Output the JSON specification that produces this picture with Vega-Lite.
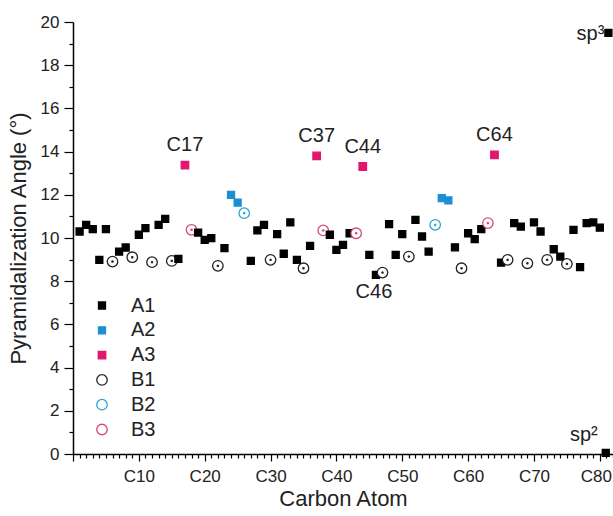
{
  "$schema": "https://vega.github.io/schema/vega-lite/v6.json",
  "width": 540,
  "height": 432,
  "autosize": {"type": "none"},
  "padding": {"left": 73, "top": 22, "right": 0, "bottom": 62},
  "config": {
    "view": {"stroke": null},
    "font": "Liberation Sans",
    "axis": {"grid": false, "domainColor": "#000", "domainWidth": 1.5, "tickColor": "#000", "tickWidth": 1.2, "labelColor": "#222", "titleColor": "#222", "labelFont": "Liberation Sans", "titleFont": "Liberation Sans", "titleFontWeight": "normal", "labelOverlap": false, "labelFlush": false}
  },
  "data": {
    "values": [
      {"atom": 1, "angle": 10.30, "series": "A1"},
      {"atom": 2, "angle": 10.61, "series": "A1"},
      {"atom": 3, "angle": 10.41, "series": "A1"},
      {"atom": 4, "angle": 8.99, "series": "A1"},
      {"atom": 5, "angle": 10.41, "series": "A1"},
      {"atom": 6, "angle": 8.91, "series": "B1"},
      {"atom": 7, "angle": 9.37, "series": "A1"},
      {"atom": 8, "angle": 9.56, "series": "A1"},
      {"atom": 9, "angle": 9.11, "series": "B1"},
      {"atom": 10, "angle": 10.15, "series": "A1"},
      {"atom": 11, "angle": 10.46, "series": "A1"},
      {"atom": 12, "angle": 8.88, "series": "B1"},
      {"atom": 13, "angle": 10.61, "series": "A1"},
      {"atom": 14, "angle": 10.89, "series": "A1"},
      {"atom": 15, "angle": 8.94, "series": "B1"},
      {"atom": 16, "angle": 9.03, "series": "A1"},
      {"atom": 17, "angle": 13.37, "series": "A3", "label": "C17"},
      {"atom": 18, "angle": 10.38, "series": "B3"},
      {"atom": 19, "angle": 10.25, "series": "A1"},
      {"atom": 20, "angle": 9.91, "series": "A1"},
      {"atom": 21, "angle": 9.99, "series": "A1"},
      {"atom": 22, "angle": 8.71, "series": "B1"},
      {"atom": 23, "angle": 9.53, "series": "A1"},
      {"atom": 24, "angle": 12.0, "series": "A2"},
      {"atom": 25, "angle": 11.64, "series": "A2"},
      {"atom": 26, "angle": 11.15, "series": "B2"},
      {"atom": 27, "angle": 8.94, "series": "A1"},
      {"atom": 28, "angle": 10.35, "series": "A1"},
      {"atom": 29, "angle": 10.61, "series": "A1"},
      {"atom": 30, "angle": 8.99, "series": "B1"},
      {"atom": 31, "angle": 10.18, "series": "A1"},
      {"atom": 32, "angle": 9.27, "series": "A1"},
      {"atom": 33, "angle": 10.72, "series": "A1"},
      {"atom": 34, "angle": 8.99, "series": "A1"},
      {"atom": 35, "angle": 8.6, "series": "B1"},
      {"atom": 36, "angle": 9.64, "series": "A1"},
      {"atom": 37, "angle": 13.8, "series": "A3", "label": "C37"},
      {"atom": 38, "angle": 10.35, "series": "B3"},
      {"atom": 39, "angle": 10.15, "series": "A1"},
      {"atom": 40, "angle": 9.45, "series": "A1"},
      {"atom": 41, "angle": 9.68, "series": "A1"},
      {"atom": 42, "angle": 10.22, "series": "A1"},
      {"atom": 43, "angle": 10.22, "series": "B3"},
      {"atom": 44, "angle": 13.31, "series": "A3", "label": "C44"},
      {"atom": 45, "angle": 9.22, "series": "A1"},
      {"atom": 46, "angle": 8.29, "series": "A1", "label": "C46"},
      {"atom": 47, "angle": 8.4, "series": "B1"},
      {"atom": 48, "angle": 10.64, "series": "A1"},
      {"atom": 49, "angle": 9.22, "series": "A1"},
      {"atom": 50, "angle": 10.18, "series": "A1"},
      {"atom": 51, "angle": 9.14, "series": "B1"},
      {"atom": 52, "angle": 10.84, "series": "A1"},
      {"atom": 53, "angle": 10.07, "series": "A1"},
      {"atom": 54, "angle": 9.37, "series": "A1"},
      {"atom": 55, "angle": 10.61, "series": "B2"},
      {"atom": 56, "angle": 11.85, "series": "A2"},
      {"atom": 57, "angle": 11.74, "series": "A2"},
      {"atom": 58, "angle": 9.57, "series": "A1"},
      {"atom": 59, "angle": 8.6, "series": "B1"},
      {"atom": 60, "angle": 10.22, "series": "A1"},
      {"atom": 61, "angle": 9.95, "series": "A1"},
      {"atom": 62, "angle": 10.41, "series": "A1"},
      {"atom": 63, "angle": 10.69, "series": "B3"},
      {"atom": 64, "angle": 13.85, "series": "A3", "label": "C64"},
      {"atom": 65, "angle": 8.86, "series": "A1"},
      {"atom": 66, "angle": 8.99, "series": "B1"},
      {"atom": 67, "angle": 10.69, "series": "A1"},
      {"atom": 68, "angle": 10.53, "series": "A1"},
      {"atom": 69, "angle": 8.83, "series": "B1"},
      {"atom": 70, "angle": 10.72, "series": "A1"},
      {"atom": 71, "angle": 10.3, "series": "A1"},
      {"atom": 72, "angle": 8.99, "series": "B1"},
      {"atom": 73, "angle": 9.48, "series": "A1"},
      {"atom": 74, "angle": 9.14, "series": "A1"},
      {"atom": 75, "angle": 8.8, "series": "B1"},
      {"atom": 76, "angle": 10.38, "series": "A1"},
      {"atom": 77, "angle": 8.65, "series": "A1"},
      {"atom": 78, "angle": 10.69, "series": "A1"},
      {"atom": 79, "angle": 10.72, "series": "A1"},
      {"atom": 80, "angle": 10.48, "series": "A1"},
      {"atom": 80.9, "angle": 0.05, "series": "A1", "label": "sp²"},
      {"atom": 81.3, "angle": 19.5, "series": "A1", "label": "sp³"}
    ]
  },
  "encoding": {
    "x": {
      "field": "atom", "type": "quantitative",
      "scale": {"domain": [0, 82], "nice": false, "zero": false},
      "axis": {
        "title": "Carbon Atom", "titleFontSize": 22, "titlePadding": 4,
        "values": [0,1,2,3,4,5,6,7,8,9,10,11,12,13,14,15,16,17,18,19,20,21,22,23,24,25,26,27,28,29,30,31,32,33,34,35,36,37,38,39,40,41,42,43,44,45,46,47,48,49,50,51,52,53,54,55,56,57,58,59,60,61,62,63,64,65,66,67,68,69,70,71,72,73,74,75,76,77,78,79,80,81,82],
        "tickSize": {"condition": {"test": "datum.value % 10 === 0", "value": 7}, "value": 4},
        "labelExpr": "datum.value % 10 === 0 && datum.value > 0 ? 'C' + datum.value : ''",
        "labelOffset": {"condition": {"test": "datum.value === 80", "value": -4}, "value": 0},
        "labelFontSize": 17, "labelPadding": 7
      }
    },
    "y": {
      "field": "angle", "type": "quantitative",
      "scale": {"domain": [0, 20], "nice": false},
      "axis": {
        "title": "Pyramidalization Angle (°)", "titleFontSize": 22, "titlePadding": 10,
        "values": [0,1,2,3,4,5,6,7,8,9,10,11,12,13,14,15,16,17,18,19,20],
        "tickSize": {"condition": {"test": "datum.value % 2 === 0", "value": 9}, "value": 4},
        "labelExpr": "datum.value % 2 === 0 ? datum.label : ''",
        "labelFontSize": 17, "labelPadding": 5
      }
    }
  },
  "layer": [
    {
      "mark": {"type": "point", "strokeWidth": 1.3, "opacity": 1},
      "encoding": {
        "fill": {"field": "series", "type": "nominal", "title": null,
          "scale": {"domain": ["A1","A2","A3","B1","B2","B3"], "range": ["#000000","#1c8ed4","#e0176e","#ffffff","#ffffff","#ffffff"]},
          "legend": {"orient": "none", "legendX": 19, "legendY": 273.5, "title": null, "labelFontSize": 20, "labelFont": "Liberation Sans", "labelColor": "#222", "rowPadding": 4.8, "labelOffset": 19, "padding": 0, "symbolStrokeWidth": 1.3}},
        "stroke": {"field": "series", "type": "nominal", "title": null,
          "scale": {"domain": ["A1","A2","A3","B1","B2","B3"], "range": ["#000000","#1c8ed4","#e0176e","#222222","#2ba3cf","#d14b7a"]},
          "legend": {"orient": "none", "legendX": 19, "legendY": 273.5, "title": null, "labelFontSize": 20, "labelFont": "Liberation Sans", "labelColor": "#222", "rowPadding": 4.8, "labelOffset": 19, "padding": 0, "symbolStrokeWidth": 1.3}},
        "shape": {"field": "series", "type": "nominal", "title": null,
          "scale": {"domain": ["A1","A2","A3","B1","B2","B3"], "range": ["square","square","square","circle","circle","circle"]},
          "legend": {"orient": "none", "legendX": 19, "legendY": 273.5, "title": null, "labelFontSize": 20, "labelFont": "Liberation Sans", "labelColor": "#222", "rowPadding": 4.8, "labelOffset": 19, "padding": 0, "symbolStrokeWidth": 1.3}},
        "size": {"field": "series", "type": "nominal", "title": null,
          "scale": {"type": "ordinal", "domain": ["A1","A2","A3","B1","B2","B3"], "range": [49, 49, 56, 110, 110, 110]},
          "legend": {"orient": "none", "legendX": 19, "legendY": 273.5, "title": null, "labelFontSize": 20, "labelFont": "Liberation Sans", "labelColor": "#222", "rowPadding": 4.8, "labelOffset": 19, "padding": 0, "symbolStrokeWidth": 1.3}}
      }
    },
    {
      "transform": [{"filter": "test(/^B/, datum.series)"}],
      "mark": {"type": "point", "shape": "circle", "filled": false, "size": 2, "strokeWidth": 1.2, "opacity": 1},
      "encoding": {
        "stroke": {"field": "series", "type": "nominal", "legend": null}
      }
    },
    {
      "transform": [{"filter": "datum.series === 'A3'"}],
      "mark": {"type": "text", "fontSize": 20, "font": "Liberation Sans", "color": "#222", "baseline": "middle", "align": "center", "dy": -20},
      "encoding": {"text": {"field": "label"}}
    },
    {
      "transform": [{"filter": "datum.label === 'C46'"}],
      "mark": {"type": "text", "fontSize": 20, "font": "Liberation Sans", "color": "#222", "baseline": "middle", "align": "center", "dx": -2, "dy": 17},
      "encoding": {"text": {"field": "label"}}
    },
    {
      "transform": [{"filter": "datum.label === 'sp³'"}],
      "mark": {"type": "text", "fontSize": 20, "font": "Liberation Sans", "color": "#222", "baseline": "alphabetic", "align": "right", "dx": -4, "dy": 7},
      "encoding": {"text": {"field": "label"}}
    },
    {
      "transform": [{"filter": "datum.label === 'sp²'"}],
      "mark": {"type": "text", "fontSize": 20, "font": "Liberation Sans", "color": "#222", "baseline": "alphabetic", "align": "right", "dx": -8, "dy": -12},
      "encoding": {"text": {"field": "label"}}
    }
  ]
}
